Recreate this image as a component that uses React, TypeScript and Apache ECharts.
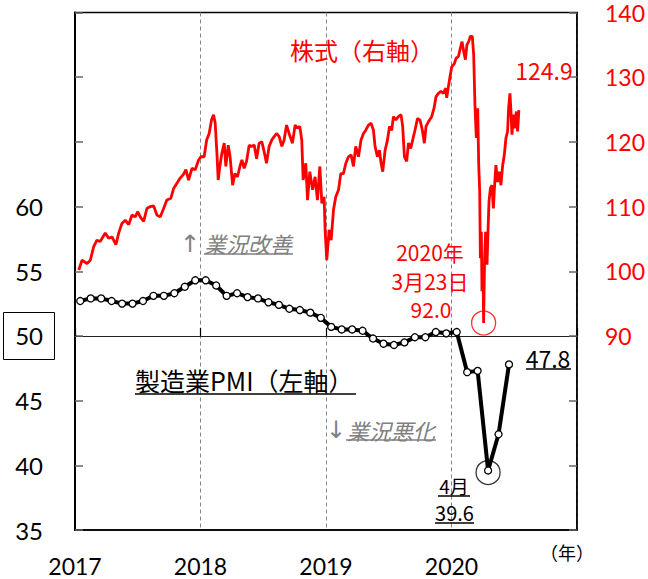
import React, { useEffect, useRef } from 'react';
import * as echarts from 'echarts';

// Manufacturing PMI (left axis), monthly, by year
const pmiYears = [2017, 2018, 2019, 2020];
const pmi2017 = [52.7, 52.9, 52.9, 52.7, 52.5, 52.5, 52.7, 53.1, 53.1, 53.3, 53.8, 54.3];
const pmi2018 = [54.3, 53.9, 53.1, 53.3, 53.0, 52.9, 52.6, 52.4, 52.1, 52.0, 51.8, 51.4];
const pmi2019 = [50.7, 50.5, 50.5, 50.4, 49.8, 49.4, 49.3, 49.5, 49.9, 49.9, 50.3, 50.2];
const pmi2020 = [50.3, 47.2, 47.3, 39.6, 42.4, 47.8];
const pmiByYear = [pmi2017, pmi2018, pmi2019, pmi2020];

// Stocks (right axis): dates as fractional years, values
const stockT = [
  2017.030, 2017.056, 2017.096, 2017.122, 2017.149, 2017.175, 2017.201, 2017.241, 2017.268, 2017.295,
  2017.326, 2017.348, 2017.374, 2017.400, 2017.428, 2017.454, 2017.480, 2017.499, 2017.520, 2017.547,
  2017.573, 2017.600, 2017.627, 2017.653, 2017.679, 2017.706, 2017.732, 2017.764, 2017.786, 2017.812,
  2017.838, 2017.865, 2017.884, 2017.905, 2017.932, 2017.958, 2017.985,
  2018.003, 2018.029, 2018.049, 2018.069, 2018.088, 2018.104, 2018.117, 2018.131, 2018.141, 2018.154,
  2018.170, 2018.189, 2018.202, 2018.221, 2018.236, 2018.256, 2018.274, 2018.295, 2018.314, 2018.330,
  2018.348, 2018.367, 2018.388, 2018.407, 2018.428, 2018.447, 2018.467, 2018.489, 2018.507, 2018.526,
  2018.547, 2018.568, 2018.587, 2018.606, 2018.627, 2018.648, 2018.666, 2018.686, 2018.706, 2018.733,
  2018.754, 2018.773, 2018.791, 2018.807, 2018.818, 2018.839, 2018.853, 2018.871, 2018.893, 2018.913,
  2018.932, 2018.951, 2018.967, 2018.985, 2018.993,
  2019.006, 2019.025, 2019.041, 2019.060, 2019.078, 2019.100, 2019.118, 2019.139, 2019.158, 2019.179,
  2019.200, 2019.219, 2019.237, 2019.259, 2019.279, 2019.299, 2019.317, 2019.338, 2019.359, 2019.378,
  2019.391, 2019.410, 2019.426, 2019.439, 2019.452, 2019.471, 2019.490, 2019.506, 2019.524, 2019.537,
  2019.556, 2019.577, 2019.598, 2019.611, 2019.625, 2019.643, 2019.657, 2019.675, 2019.691, 2019.709,
  2019.729, 2019.749, 2019.768, 2019.784, 2019.797, 2019.816, 2019.842, 2019.861, 2019.877, 2019.896,
  2019.916, 2019.936, 2019.954, 2019.962, 2019.980,
  2020.002, 2020.023, 2020.036, 2020.055, 2020.071, 2020.084, 2020.097, 2020.111, 2020.123, 2020.137,
  2020.150, 2020.166, 2020.177, 2020.187, 2020.198, 2020.209, 2020.217, 2020.225, 2020.230, 2020.238,
  2020.243, 2020.251, 2020.256, 2020.264, 2020.272, 2020.283, 2020.291, 2020.299, 2020.310, 2020.322,
  2020.334, 2020.342, 2020.354, 2020.368, 2020.381, 2020.394, 2020.408, 2020.421, 2020.434, 2020.447,
  2020.455, 2020.466, 2020.474, 2020.482, 2020.493, 2020.506, 2020.517, 2020.527, 2020.537,
];
const stockV = [
  100.2, 101.7, 101.2, 101.7, 103.8, 104.8, 104.6, 105.9, 105.1, 105.3,
  104.1, 105.9, 107.4, 107.9, 107.2, 108.7, 108.4, 109.2, 108.4, 107.7,
  109.7, 110.0, 110.1, 108.7, 108.4, 109.7, 111.0, 111.3, 112.8, 113.6,
  114.4, 115.0, 115.7, 114.1, 115.9, 115.7, 117.2,
  117.7, 117.7, 120.3, 121.3, 123.4, 124.2, 122.9, 118.2, 114.1, 116.2,
  118.2, 119.8, 116.2, 119.5, 117.7, 113.3, 115.1, 114.6, 116.2, 117.2,
  115.9, 117.0, 119.5, 119.3, 119.5, 117.4, 119.8, 120.0, 118.5, 116.7,
  119.3, 120.3, 120.8, 121.3, 120.8, 119.3, 120.3, 122.6, 121.3, 119.8,
  122.6, 122.1, 122.4, 120.3, 114.1, 116.7, 111.0, 115.4, 112.6, 114.6,
  111.0, 116.2, 110.5, 111.5, 106.4,
  101.7, 106.4, 104.8, 109.5, 111.5, 112.6, 115.1, 115.1, 116.7, 117.7,
  118.0, 116.2, 119.3, 117.7, 120.3, 121.3, 121.8, 122.6, 122.9, 121.8,
  119.3, 117.7, 118.7, 116.7, 115.4, 118.7, 120.3, 122.4, 121.8, 123.9,
  123.4, 123.9, 124.2, 122.4, 117.7, 117.0, 119.8, 119.0, 120.3, 121.8,
  123.6, 123.4, 121.8, 119.8, 122.4, 123.1, 123.9, 125.2, 127.0, 127.5,
  127.8, 127.5, 128.3, 126.8, 129.1,
  131.6, 132.1, 132.9, 133.2, 134.5, 135.5, 134.0, 132.7, 135.0, 135.5,
  136.3, 136.3, 133.4, 125.7, 120.6, 125.2, 116.4, 112.3, 102.0, 106.1,
  96.9, 101.0, 92.0, 102.0, 106.1, 101.0, 106.1, 110.8, 112.8, 113.3,
  109.7, 112.8, 116.4, 113.8, 115.4, 113.3, 116.4, 118.0, 120.6, 121.6,
  125.2, 127.5, 124.7, 121.1, 124.2, 122.1, 124.7, 121.6, 124.9,
];

const xTicks = [2017, 2018, 2019, 2020, 2021];
const leftTicks = [35, 40, 45, 50, 55, 60, 65, 70, 75];
const rightTicks = [60, 70, 80, 90, 100, 110, 120, 130, 140];

const JP = '"Noto Sans CJK JP", sans-serif';
const NUM = 'Lato, "Noto Sans", sans-serif';

export default function App() {
  const ref = useRef<HTMLDivElement>(null);
  useEffect(() => {
    if (!ref.current) return;
    const chart = echarts.init(ref.current, undefined, { renderer: 'svg' });

    const pmiData: number[][] = [];
    pmiByYear.forEach((arr, yi) => {
      arr.forEach((v, m) => pmiData.push([pmiYears[yi] + (m + 0.5) / 12, v]));
    });
    const stockData = stockT.map((t, i) => [t, stockV[i]]);
    let minIdx = 0;
    stockV.forEach((v, i) => { if (v < stockV[minIdx]) minIdx = i; });
    const aprIdx = pmiData.findIndex((p) => p[1] === Math.min(...pmiData.map((q) => q[1])));

    const txt = (x: number, y: number, text: string, o: any = {}) => ({
      type: 'text', x, y, z: 100,
      style: {
        text, fill: o.fill || '#000', fontSize: o.fontSize || 21, fontFamily: o.fontFamily || JP,
        fontStyle: o.fontStyle || 'normal',
        align: o.align || 'center', verticalAlign: 'middle',
        textAlign: o.align || 'center', textVerticalAlign: 'middle',
      },
    });
    const uline = (x1: number, x2: number, y: number, color = '#000') => ({
      type: 'line', z: 100, shape: { x1, y1: y, x2, y2: y }, style: { stroke: color, lineWidth: 1.5 },
    });

    const option: any = {
      animation: false,
      backgroundColor: '#fff',
      grid: { left: 75, right: 71, top: 12.5, bottom: 49, show: true, borderColor: '#000', borderWidth: 1.5 },
      xAxis: [
        {
          type: 'value', min: xTicks[0], max: xTicks[xTicks.length - 1], interval: 1,
          axisLine: { show: true, lineStyle: { color: '#000', width: 1.5 } },
          axisTick: { show: false },
          axisLabel: {
            margin: 24, fontSize: 23, fontFamily: NUM, color: '#000',
            formatter: (v: number) => (v < 2021 ? String(v) : ''),
          },
          splitLine: { show: true, lineStyle: { color: '#888', type: [4, 3], width: 1 } },
        },
        {
          type: 'value', min: xTicks[0], max: xTicks[xTicks.length - 1], interval: 1,
          position: 'bottom', offset: -194,
          axisLine: { show: true, lineStyle: { color: '#222', width: 1 } },
          axisTick: { show: true, inside: true, length: 8, lineStyle: { color: '#000', width: 1.2 } },
          axisLabel: { show: false },
          splitLine: { show: false },
        },
      ],
      yAxis: [
        {
          type: 'value', min: leftTicks[0], max: leftTicks[leftTicks.length - 1], interval: 5, position: 'left',
          axisLine: { show: true, lineStyle: { color: '#000', width: 2 } },
          axisTick: { show: true, inside: true, length: 8, lineStyle: { color: '#666', width: 1.5 } },
          axisLabel: {
            margin: 32, fontSize: 24, fontFamily: NUM, color: '#000',
            formatter: (v: number) => (v <= 60 ? String(v) : ''),
          },
          splitLine: { show: false },
        },
        {
          type: 'value', min: rightTicks[0], max: rightTicks[rightTicks.length - 1], interval: 10, position: 'right',
          axisLine: { show: true, lineStyle: { color: '#000', width: 1.5 } },
          axisTick: { show: true, inside: true, length: 8, lineStyle: { color: '#666', width: 1.5 } },
          axisLabel: {
            margin: 28, fontSize: 23, fontFamily: NUM, color: '#ff0000',
            formatter: (v: number) => (v >= 90 ? String(v) : ''),
          },
          splitLine: { show: false },
        },
      ],
      series: [
        {
          name: '株式', type: 'line', xAxisIndex: 0, yAxisIndex: 1, data: stockData,
          showSymbol: false, symbol: 'none', z: 2,
          lineStyle: { color: '#ff0000', width: 2.8 },
        },
        {
          name: '製造業PMI', type: 'line', xAxisIndex: 0, yAxisIndex: 0, data: pmiData,
          symbol: 'circle', symbolSize: 7, showSymbol: true, z: 3,
          lineStyle: { color: '#000', width: 4 },
          itemStyle: { color: '#fff', borderColor: '#000', borderWidth: 1.3 },
        },
        {
          type: 'scatter', xAxisIndex: 0, yAxisIndex: 1, data: [stockData[minIdx]],
          symbol: 'circle', symbolSize: 24, z: 4, silent: true,
          itemStyle: { color: 'rgba(0,0,0,0)', borderColor: '#ff0000', borderWidth: 1.3 },
        },
        {
          type: 'scatter', xAxisIndex: 0, yAxisIndex: 0, data: [pmiData[aprIdx]],
          symbol: 'circle', symbolSize: 24, symbolOffset: [0, 2], z: 4, silent: true,
          itemStyle: { color: 'rgba(0,0,0,0)', borderColor: '#000', borderWidth: 1.3 },
        },
      ],
      graphic: [
        { type: 'rect', z: 100, shape: { x: 3.5, y: 312.5, width: 51, height: 47 }, style: { fill: 'none', stroke: '#000', lineWidth: 1 } },
        txt(362, 49, '株式（右軸）', { fill: '#ff0000', fontSize: 24 }),
        txt(544, 70, '124.9', { fill: '#ff0000', fontSize: 23 }),
        txt(430, 252, '2020年', { fill: '#ff0000', fontSize: 21 }),
        txt(430, 281, '3月23日', { fill: '#ff0000', fontSize: 21 }),
        txt(431, 309, '92.0', { fill: '#ff0000', fontSize: 21 }),
        txt(190, 244, '↑', { fill: '#808080', fontSize: 24, fontFamily: '"DejaVu Sans", sans-serif' }),
        txt(248, 243, '業況改善', { fill: '#808080', fontSize: 22, fontStyle: 'italic' }),
        uline(204, 293, 254, '#808080'),
        txt(336, 430, '↓', { fill: '#808080', fontSize: 24, fontFamily: '"DejaVu Sans", sans-serif' }),
        txt(391, 430, '業況悪化', { fill: '#808080', fontSize: 22, fontStyle: 'italic' }),
        uline(346, 436, 440, '#808080'),
        txt(135, 380, '製造業PMI（左軸）', { fontSize: 25, align: 'left' }),
        uline(135, 356, 394),
        txt(548, 358, '47.8', { fontSize: 23 }),
        uline(526, 571, 369),
        txt(454, 485, '4月', { fontSize: 19 }),
        uline(438, 470, 496),
        txt(454.5, 512, '39.6', { fontSize: 20 }),
        uline(435, 474, 523),
        txt(567, 552, '（年）', { fontSize: 18 }),
      ],
    };
    chart.setOption(option);
    return () => chart.dispose();
  }, []);
  return <div ref={ref} style={{ position: 'fixed', left: 0, top: 0, width: 648, height: 579 }} />;
}
